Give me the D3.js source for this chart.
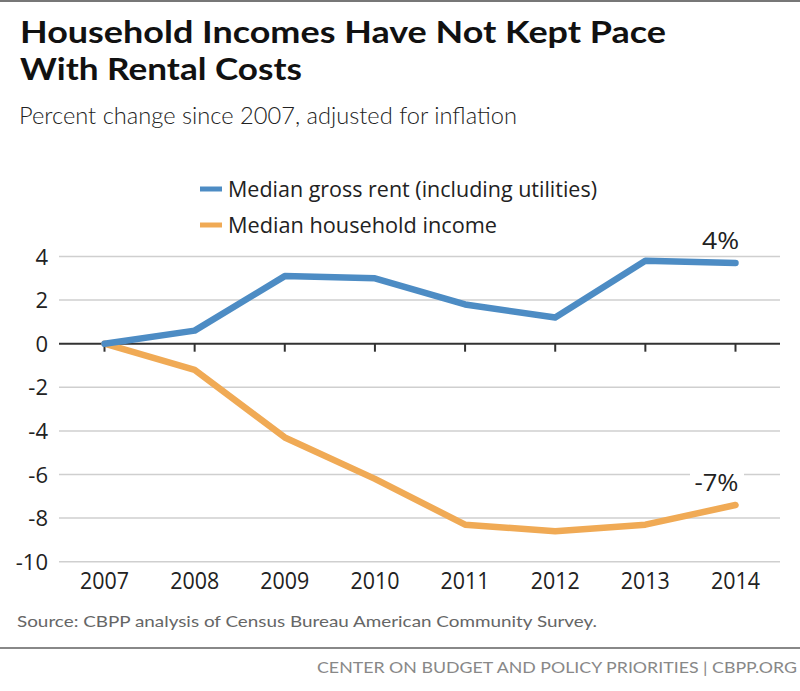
<!DOCTYPE html>
<html><head><meta charset="utf-8">
<script src="https://cdn.jsdelivr.net/npm/d3@7"></script>
<style>
html,body{margin:0;padding:0;background:#fff;}
svg{display:block;}
</style></head>
<body>
<svg id="chart" width="800" height="691"></svg>
<script>
const years = ["2007","2008","2009","2010","2011","2012","2013","2014"];
const rentValues = [0, 0.6, 3.1, 3.0, 1.8, 1.2, 3.8, 3.7];
const incomeValues = [0, -1.2, -4.3, -6.2, -8.3, -8.6, -8.3, -7.4];
const yTicks = [4, 2, 0, -2, -4, -6, -8, -10];
const seriesNames = ["Median gross rent (including utilities)", "Median household income"];
const endLabels = ["4%", "-7%"];

const svg = d3.select("#chart");
const blue = "#4d8cc4", orange = "#f0aa55";

function txt(s, x, y, opts) {
  const t = svg.append("text").attr("x", x).attr("y", y)
    .attr("font-family", opts.family || "Lato")
    .attr("font-weight", opts.weight || 400)
    .attr("font-size", opts.size)
    .attr("fill", opts.fill || "#222")
    .attr("text-anchor", opts.anchor || "start")
    .text(s);
  if (opts.len) t.attr("textLength", opts.len).attr("lengthAdjust", "spacingAndGlyphs");
  return t;
}

// top border
svg.append("rect").attr("x",0).attr("y",0).attr("width",800).attr("height",2).attr("fill","#777");

txt("Household Incomes Have Not Kept Pace", 20, 43, {size:31, weight:700, fill:"#111", len:646});
txt("With Rental Costs", 20, 80, {size:31, weight:700, fill:"#111", len:282});
txt("Percent change since 2007, adjusted for inflation", 19, 124, {size:24, weight:300, fill:"#222", len:498});

const x = d3.scalePoint().domain(years).range([104.5, 735.5]);
const y = d3.scaleLinear().domain([-10, 4]).range([561.7, 256.5]);
const plotL = 59, plotR = 780;

// gridlines
svg.append("g").selectAll("line").data(yTicks.filter(d=>d!==0)).join("line")
  .attr("x1",plotL).attr("x2",plotR).attr("y1",d=>y(d)).attr("y2",d=>y(d))
  .attr("stroke","#cfcfcf").attr("stroke-width",1.5);

// y tick labels
svg.append("g").selectAll("text").data(yTicks).join("text")
  .attr("x",48).attr("y",d=>y(d)+8).attr("text-anchor","end")
  .attr("font-family","Open Sans").attr("font-size",22).attr("fill","#222")
  .text(d=>d);

// zero axis
svg.append("line").attr("x1",plotL).attr("x2",plotR).attr("y1",y(0)).attr("y2",y(0))
  .attr("stroke","#333").attr("stroke-width",2);
svg.append("g").selectAll("line").data(years).join("line")
  .attr("x1",d=>x(d)).attr("x2",d=>x(d)).attr("y1",y(0)).attr("y2",y(0)+8)
  .attr("stroke","#333").attr("stroke-width",2);

// x labels
svg.append("g").selectAll("text").data(years).join("text")
  .attr("x",d=>x(d)).attr("y",589).attr("text-anchor","middle")
  .attr("font-family","Open Sans").attr("font-size",23).attr("fill","#222")
  .attr("textLength",49).attr("lengthAdjust","spacingAndGlyphs")
  .text(d=>d);

const line = d3.line().x((d,i)=>x(years[i])).y(d=>y(d));
svg.append("path").datum(incomeValues).attr("d",line).attr("fill","none")
  .attr("stroke",orange).attr("stroke-width",6.5).attr("stroke-linejoin","round").attr("stroke-linecap","round");
svg.append("path").datum(rentValues).attr("d",line).attr("fill","none")
  .attr("stroke",blue).attr("stroke-width",6.5).attr("stroke-linejoin","round").attr("stroke-linecap","round");

// end labels
const last = years.length-1;
txt(endLabels[0], x(years[last])-15, y(rentValues[last])-14, {family:"Open Sans", size:24, anchor:"middle", len:37});
svg.append("rect").attr("x",690).attr("y",465).attr("width",54).attr("height",30).attr("fill","#fff");
txt(endLabels[1], x(years[last])-19, y(incomeValues[last])-14, {family:"Open Sans", size:24, anchor:"middle", len:44});

// legend
const legColors = [blue, orange];
const legLens = [369, 269];
seriesNames.forEach((n,i)=>{
  const ly = 189 + i*36;
  svg.append("line").attr("x1",200).attr("x2",222).attr("y1",ly).attr("y2",ly)
    .attr("stroke",legColors[i]).attr("stroke-width",5);
  txt(n, 228, ly+8, {family:"Open Sans", size:22, len:legLens[i]});
});

// source & footer
txt("Source: CBPP analysis of Census Bureau American Community Survey.", 17, 627, {size:16, fill:"#666", len:580});
svg.append("rect").attr("x",0).attr("y",647).attr("width",800).attr("height",2).attr("fill","#888");
txt("CENTER ON BUDGET AND POLICY PRIORITIES | CBPP.ORG", 797, 673, {size:16, fill:"#888", anchor:"end", len:480});
</script>
</body></html>
